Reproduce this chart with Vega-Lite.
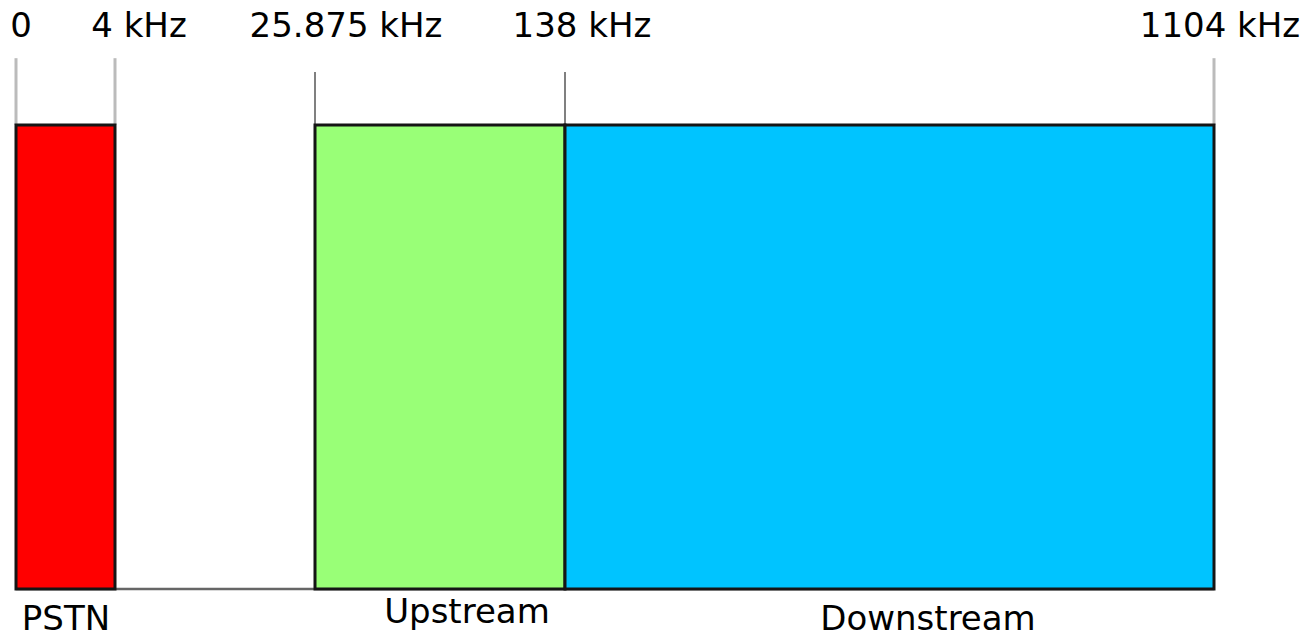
{
  "$schema": "https://vega.github.io/schema/vega-lite/v6.json",
  "width": 1306,
  "height": 633,
  "padding": 0,
  "autosize": "none",
  "background": "white",
  "config": {"view": {"stroke": null}, "text": {"font": "DejaVu Sans", "fontSize": 34, "color": "black"}},
  "datasets": {
    "bands": [
      {"band": "PSTN", "start": 0, "end": 4},
      {"band": "Upstream", "start": 25.875, "end": 138},
      {"band": "Downstream", "start": 138, "end": 1104}
    ],
    "ticks": [
      {"freq": 0, "label": "0", "kind": "edge"},
      {"freq": 4, "label": "4 kHz", "kind": "edge"},
      {"freq": 25.875, "label": "25.875 kHz", "kind": "band"},
      {"freq": 138, "label": "138 kHz", "kind": "band"},
      {"freq": 1104, "label": "1104 kHz", "kind": "edge"}
    ],
    "span": [{"start": 0, "end": 1104}]
  },
  "layer": [
    {
      "data": {"name": "span"},
      "mark": {"type": "rule", "color": "#666666", "strokeWidth": 2.5},
      "encoding": {
        "x": {"field": "start", "type": "quantitative", "axis": null,
              "scale": {"type": "linear", "domain": [0, 4, 25.875, 138, 1104], "range": [16, 115, 315, 565, 1214], "zero": false, "nice": false, "clamp": false}},
        "x2": {"field": "end"},
        "y": {"datum": 0, "type": "quantitative", "axis": null,
              "scale": {"domain": [0, 100], "range": [589, 125], "zero": false, "nice": false}}
      }
    },
    {
      "data": {"name": "ticks"},
      "transform": [{"filter": "datum.kind === 'edge'"}],
      "mark": {"type": "rule", "color": "#bbbbbb", "strokeWidth": 3},
      "encoding": {
        "x": {"field": "freq", "type": "quantitative", "axis": null},
        "y": {"datum": 100, "type": "quantitative", "axis": null},
        "y2": {"datum": 114.4}
      }
    },
    {
      "data": {"name": "ticks"},
      "transform": [{"filter": "datum.kind === 'band'"}],
      "mark": {"type": "rule", "color": "#808080", "strokeWidth": 2},
      "encoding": {
        "x": {"field": "freq", "type": "quantitative", "axis": null},
        "y": {"datum": 100, "type": "quantitative", "axis": null},
        "y2": {"datum": 111.4}
      }
    },
    {
      "data": {"name": "bands"},
      "mark": {"type": "rect", "stroke": "#151515", "strokeWidth": 3},
      "encoding": {
        "x": {"field": "start", "type": "quantitative", "axis": null},
        "x2": {"field": "end"},
        "y": {"datum": 0, "type": "quantitative", "axis": null},
        "y2": {"datum": 100},
        "color": {"field": "band", "type": "nominal", "legend": null,
                  "scale": {"domain": ["PSTN", "Upstream", "Downstream"], "range": ["#ff0000", "#99ff77", "#00c4ff"]}}
      }
    },
    {
      "data": {"name": "ticks"},
      "transform": [{"filter": "datum.freq === 0"}],
      "mark": {"type": "text", "align": "center", "baseline": "alphabetic", "dx": 5},
      "encoding": {"x": {"field": "freq", "type": "quantitative", "axis": null}, "y": {"datum": 119, "type": "quantitative", "axis": null}, "text": {"field": "label"}}
    },
    {
      "data": {"name": "ticks"},
      "transform": [{"filter": "datum.freq === 4"}],
      "mark": {"type": "text", "align": "center", "baseline": "alphabetic", "dx": 24},
      "encoding": {"x": {"field": "freq", "type": "quantitative", "axis": null}, "y": {"datum": 119, "type": "quantitative", "axis": null}, "text": {"field": "label"}}
    },
    {
      "data": {"name": "ticks"},
      "transform": [{"filter": "datum.freq === 25.875"}],
      "mark": {"type": "text", "align": "center", "baseline": "alphabetic", "dx": 31},
      "encoding": {"x": {"field": "freq", "type": "quantitative", "axis": null}, "y": {"datum": 119, "type": "quantitative", "axis": null}, "text": {"field": "label"}}
    },
    {
      "data": {"name": "ticks"},
      "transform": [{"filter": "datum.freq === 138"}],
      "mark": {"type": "text", "align": "center", "baseline": "alphabetic", "dx": 17},
      "encoding": {"x": {"field": "freq", "type": "quantitative", "axis": null}, "y": {"datum": 119, "type": "quantitative", "axis": null}, "text": {"field": "label"}}
    },
    {
      "data": {"name": "ticks"},
      "transform": [{"filter": "datum.freq === 1104"}],
      "mark": {"type": "text", "align": "center", "baseline": "alphabetic", "dx": 6},
      "encoding": {"x": {"field": "freq", "type": "quantitative", "axis": null}, "y": {"datum": 119, "type": "quantitative", "axis": null}, "text": {"field": "label"}}
    },
    {
      "data": {"name": "bands"},
      "transform": [{"filter": "datum.band === 'PSTN'"}],
      "mark": {"type": "text", "align": "center", "baseline": "alphabetic", "dx": 50},
      "encoding": {"x": {"field": "start", "type": "quantitative", "axis": null}, "y": {"datum": -8.8, "type": "quantitative", "axis": null}, "text": {"field": "band"}}
    },
    {
      "data": {"name": "bands"},
      "transform": [{"filter": "datum.band === 'Upstream'"}],
      "mark": {"type": "text", "align": "center", "baseline": "alphabetic", "dx": 152},
      "encoding": {"x": {"field": "start", "type": "quantitative", "axis": null}, "y": {"datum": -7.3, "type": "quantitative", "axis": null}, "text": {"field": "band"}}
    },
    {
      "data": {"name": "bands"},
      "transform": [{"filter": "datum.band === 'Downstream'"}],
      "mark": {"type": "text", "align": "center", "baseline": "alphabetic", "dx": 363},
      "encoding": {"x": {"field": "start", "type": "quantitative", "axis": null}, "y": {"datum": -8.8, "type": "quantitative", "axis": null}, "text": {"field": "band"}}
    }
  ]
}
